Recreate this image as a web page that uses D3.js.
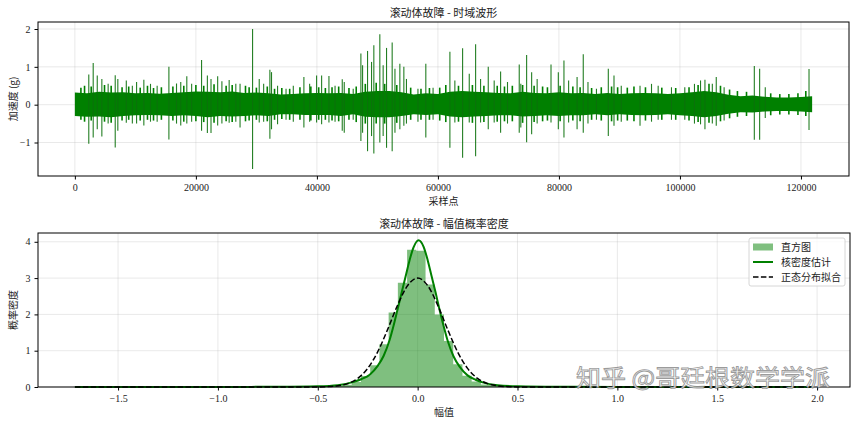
<!DOCTYPE html>
<html>
<head>
<meta charset="utf-8">
<script src="https://cdn.jsdelivr.net/npm/d3@7/dist/d3.min.js"></script>
<style>
  html, body { margin: 0; padding: 0; background: #fff; }
  svg { display: block; }
</style>
</head>
<body>
<svg id="chart" width="856" height="424"></svg>
<script>
// ---------------- DATA ----------------
const nSamples = 121846;

// dense core band of the waveform (envelope)
const coreX = [0,2000,4000,6000,8000,10000,12000,14000,16000,18000,20000,22000,24000,26000,28000,30000,
  32000,34000,36000,38000,40000,42000,44000,46000,48000,50000,52000,54000,56000,58000,60000,62000,64000,
  66000,68000,70000,72000,74000,76000,78000,80000,82000,84000,86000,88000,90000,92000,94000,96000,98000,
  100000,102000,104000,106000,108000,110000,112000,114000,116000,118000,120000,121846];
const coreTop = [0.32,0.30,0.34,0.32,0.33,0.30,0.31,0.29,0.31,0.33,0.35,0.34,0.33,0.35,0.31,0.32,
  0.30,0.27,0.28,0.30,0.31,0.30,0.31,0.28,0.34,0.36,0.36,0.33,0.27,0.30,0.28,0.34,0.36,
  0.34,0.33,0.31,0.30,0.34,0.31,0.30,0.33,0.30,0.31,0.28,0.31,0.28,0.30,0.31,0.30,0.28,
  0.30,0.33,0.36,0.33,0.26,0.22,0.24,0.21,0.19,0.19,0.20,0.22];
const coreBottom = [-0.30,-0.32,-0.31,-0.33,-0.30,-0.28,-0.27,-0.28,-0.30,-0.28,-0.30,-0.33,-0.30,-0.31,-0.30,-0.28,
  -0.30,-0.25,-0.25,-0.27,-0.27,-0.27,-0.30,-0.25,-0.32,-0.33,-0.33,-0.30,-0.25,-0.27,-0.25,-0.31,-0.33,
  -0.31,-0.30,-0.28,-0.28,-0.31,-0.30,-0.28,-0.30,-0.28,-0.28,-0.25,-0.28,-0.25,-0.27,-0.28,-0.27,-0.25,
  -0.28,-0.30,-0.33,-0.30,-0.24,-0.20,-0.21,-0.18,-0.17,-0.17,-0.18,-0.20];

// small ragged peaks at the edge of the band (sample index, max, min)
const minorX = [1000,1600,2700,4900,6000,7800,8900,10800,12000,13000,14300,16200,18000,20000,21300,23000,25000,26000,
  28200,28800,30000,31800,33000,34200,35500,37200,39000,40300,41400,42500,43600,45300,46500,48000,49800,51200,
  53200,55500,57200,58600,60300,61300,63400,65700,67600,69800,71000,72300,74000,75900,77300,78100,80200,82300,
  83500,85400,87000,88700,89700,91300,92400,94300,97000,99300,101500,103000,104800,106700,108200,109500,111000,
  115000,116500,118000,119500,120800];
const minorMax = [0.45,0.50,0.48,0.52,0.50,0.46,0.48,0.45,0.50,0.44,0.46,0.48,0.50,0.52,0.50,0.54,0.50,0.52,
  0.50,0.46,0.45,0.48,0.42,0.44,0.42,0.46,0.48,0.46,0.44,0.46,0.48,0.44,0.48,0.55,0.58,0.55,
  0.52,0.45,0.42,0.44,0.45,0.52,0.50,0.52,0.50,0.50,0.48,0.50,0.52,0.50,0.48,0.46,0.50,0.48,
  0.46,0.44,0.46,0.48,0.46,0.45,0.48,0.46,0.45,0.44,0.46,0.52,0.55,0.50,0.40,0.36,0.34,
  0.30,0.28,0.28,0.30,0.36];
const minorMin = [-0.40,-0.45,-0.42,-0.45,-0.48,-0.42,-0.40,-0.42,-0.40,-0.42,-0.40,-0.42,-0.45,-0.44,-0.46,-0.48,-0.44,-0.46,
  -0.44,-0.42,-0.40,-0.44,-0.40,-0.38,-0.40,-0.40,-0.42,-0.40,-0.40,-0.42,-0.44,-0.40,-0.46,-0.50,-0.50,-0.50,
  -0.48,-0.40,-0.40,-0.40,-0.42,-0.46,-0.45,-0.48,-0.46,-0.45,-0.44,-0.44,-0.48,-0.46,-0.44,-0.42,-0.44,-0.42,
  -0.44,-0.40,-0.42,-0.44,-0.42,-0.42,-0.44,-0.42,-0.40,-0.40,-0.42,-0.46,-0.48,-0.44,-0.36,-0.32,-0.30,
  -0.28,-0.26,-0.26,-0.27,-0.30];

// impulsive spikes (sample index, peak max, peak min)
const spikeX = [2300,3030,3700,4460,5500,6670,7100,8500,9500,10200,11400,12500,13600,15540,16800,17500,18500,19300,
  20940,21900,22500,23600,24300,25500,26600,27300,29370,
  30470,31200,32230,32500,33500,34900,36100,37850,38800,39950,40780,41990,43000,44190,44520,46000,
  47270,47550,48370,49030,49410,50400,50950,51510,52440,52900,53710,54370,54800,56700,58000,59200,
  61980,62800,64080,65180,66230,67050,68320,69300,70360,71500,73440,73700,74660,75490,76400,78690,
  79900,80830,81600,83000,84020,84800,86200,88160,89100,90300,
  93400,95300,96400,98600,100800,102400,103400,104130,105350,106000,107300,112290,113170,114100,121330];
const spikeMax = [0.80,1.10,0.77,0.68,0.55,0.78,0.68,0.64,0.50,0.60,0.66,0.55,0.50,1.00,0.56,0.60,0.75,0.55,
  1.18,0.77,0.68,0.75,0.62,0.65,0.55,0.55,2.00,
  0.68,0.55,0.92,0.86,0.50,0.42,0.50,0.73,0.55,0.77,0.77,0.76,0.50,0.67,0.60,0.42,
  1.35,1.04,1.42,1.13,1.57,1.86,1.04,1.50,1.64,0.95,1.08,1.00,0.68,0.42,1.08,0.45,
  1.40,0.64,1.49,0.82,1.60,0.68,1.00,0.64,0.88,0.60,1.06,0.55,1.31,0.86,0.68,1.06,
  0.86,1.17,0.64,0.73,1.33,0.60,0.42,0.95,0.77,0.50,
  0.50,0.55,0.50,0.46,0.46,0.55,0.64,0.66,0.55,0.73,0.46,1.02,0.95,0.46,0.94];
const spikeMin = [-1.03,-0.87,-0.65,-0.84,-0.50,-1.13,-0.69,-0.48,-0.50,-0.50,-0.55,-0.45,-0.45,-0.92,-0.50,-0.55,-0.50,-0.45,
  -0.69,-0.75,-0.75,-0.55,-0.50,-0.48,-0.45,-0.60,-1.70,
  -0.47,-0.45,-0.90,-0.65,-0.52,-0.40,-0.45,-0.60,-0.45,-0.47,-0.52,-0.47,-0.45,-0.69,-0.74,-0.40,
  -0.96,-0.74,-1.23,-0.83,-1.29,-1.00,-0.83,-1.14,-1.23,-0.74,-0.65,-0.56,-0.50,-0.45,-0.87,-0.40,
  -1.14,-0.47,-1.40,-0.47,-1.36,-0.47,-0.65,-0.47,-0.74,-0.50,-0.74,-0.60,-0.99,-0.78,-0.50,-0.47,
  -0.65,-0.87,-0.47,-0.65,-0.74,-0.50,-0.40,-0.83,-0.56,-0.45,
  -0.56,-0.45,-0.40,-0.40,-0.40,-0.50,-0.52,-0.65,-0.50,-0.56,-0.42,-0.93,-0.93,-0.35,-0.67];

const timeTicks = [0,20000,40000,60000,80000,100000,120000];
const ampTicks = [-1,0,1,2];

// histogram (density), 80 bins over the data range
const histMin = -1.716, histMax = 1.98;
const histDensity = [
  0.006,0,0,0,0,0,0.003,0,0,0,
  0.003,0,0.003,0.003,0,0.003,0.006,0.003,0.006,0.006,
  0.008,0.008,0.01,0.01,0.012,0.015,0.018,0.025,0.035,0.06,
  0.14,0.30,0.60,1.18,2.05,2.87,3.78,3.75,2.82,2.00,
  1.27,0.63,0.31,0.15,0.07,0.04,0.028,0.02,0.015,0.012,
  0.01,0.009,0.007,0.006,0.005,0.004,0.003,0.003,0.002,0.002,
  0.002,0,0.002,0,0.002,0,0,0.002,0,0,
  0,0.002,0,0,0,0,0,0,0,0.003];

// kernel density estimate
const kdeX = [-1.716,-1.5,-1.0,-0.7,-0.5,-0.4,-0.32,-0.28,-0.24,-0.20,-0.17,-0.14,-0.12,-0.10,-0.08,-0.06,-0.04,-0.02,
  0.004,0.03,0.05,0.07,0.09,0.11,0.13,0.15,0.18,0.21,0.25,0.29,0.33,0.40,0.50,0.70,1.0,1.5,1.98];
const kdeY = [0.001,0.001,0.002,0.006,0.02,0.05,0.14,0.22,0.34,0.58,0.86,1.30,1.70,2.15,2.60,3.05,3.50,3.85,
  4.04,3.86,3.50,3.05,2.60,2.12,1.68,1.28,0.84,0.56,0.32,0.20,0.12,0.05,0.02,0.006,0.002,0.001,0.001];

// fitted normal distribution
const normX = [-1.716,-1.0,-0.6,-0.5,-0.45,-0.4,-0.35,-0.3,-0.25,-0.2,-0.15,-0.1,-0.05,0,
  0.05,0.1,0.15,0.2,0.25,0.3,0.35,0.4,0.45,0.5,0.6,1.0,1.98];
const normY = [0,0,0.0001,0.0026,0.01,0.033,0.094,0.236,0.512,0.968,1.588,2.26,2.796,3.0,
  2.796,2.26,1.588,0.968,0.512,0.236,0.094,0.033,0.01,0.0026,0.0001,0,0];

const densTicks = [0,1,2,3,4];
const valTicks = [-1.5,-1.0,-0.5,0.0,0.5,1.0,1.5,2.0];

const legendLabels = ["直方图","核密度估计","正态分布拟合"];

// ---------------- DRAW ----------------
const fontCJK = "'Noto Sans CJK SC','Noto Sans CJK JP',sans-serif";
const fontNum = "'Liberation Serif','DejaVu Serif',serif";
const svg = d3.select("#chart");
svg.append("rect").attr("width",856).attr("height",424).attr("fill","#fff");

function pad(lo, hi){ const s = hi - lo; return [lo - 0.05*s, hi + 0.05*s]; }

function frame(g, L, R, T, B){
  g.append("rect").attr("x",L).attr("y",T).attr("width",R-L).attr("height",B-T)
    .attr("fill","none").attr("stroke","#000").attr("stroke-width",1);
}

// ===== Top panel =====
{
  const L = 38, R = 849, T = 22, B = 176;
  const x = d3.scaleLinear().domain(pad(0, nSamples)).range([L, R]);
  const ymax = d3.max(spikeMax), ymin = d3.min(spikeMin);
  const y = d3.scaleLinear().domain(pad(ymin, ymax)).range([B, T]);
  const g = svg.append("g");

  // grid
  g.selectAll(".gx").data(timeTicks).enter().append("line")
    .attr("x1",d=>x(d)).attr("x2",d=>x(d)).attr("y1",T).attr("y2",B)
    .attr("stroke","#b0b0b0").attr("stroke-opacity",0.35).attr("stroke-width",0.8);
  g.selectAll(".gy").data(ampTicks).enter().append("line")
    .attr("x1",L).attr("x2",R).attr("y1",d=>y(d)).attr("y2",d=>y(d))
    .attr("stroke","#b0b0b0").attr("stroke-opacity",0.35).attr("stroke-width",0.8);

  // core band
  const core = coreX.map((v,i)=>({x:v,t:coreTop[i],b:coreBottom[i]}));
  g.append("path").datum(core)
    .attr("d", d3.area().x(d=>x(d.x)).y0(d=>y(d.b)).y1(d=>y(d.t)).curve(d3.curveLinear))
    .attr("fill","#008000");
  // ragged edge
  g.selectAll(".mn").data(minorX).enter().append("line")
    .attr("x1",d=>x(d)).attr("x2",d=>x(d))
    .attr("y1",(d,i)=>y(minorMin[i])).attr("y2",(d,i)=>y(minorMax[i]))
    .attr("stroke","#008000").attr("stroke-width",1.6);
  // spikes
  g.selectAll(".sp").data(spikeX).enter().append("line")
    .attr("x1",d=>x(d)).attr("x2",d=>x(d))
    .attr("y1",(d,i)=>y(spikeMin[i])).attr("y2",(d,i)=>y(spikeMax[i]))
    .attr("stroke","#0b700b").attr("stroke-width",1.1).attr("stroke-opacity",0.9);

  frame(g, L, R, T, B);

  // axes
  const ax = g.append("g").attr("transform",`translate(0,${B})`)
    .call(d3.axisBottom(x).tickValues(timeTicks).tickFormat(d3.format("d")).tickSize(3.5).tickPadding(4));
  const ay = g.append("g").attr("transform",`translate(${L},0)`)
    .call(d3.axisLeft(y).tickValues(ampTicks).tickFormat(d=>d<0?"\u2212"+Math.abs(d):String(d)).tickSize(3.5).tickPadding(4));
  [ax, ay].forEach(a=>{
    a.select(".domain").remove();
    a.selectAll("text").attr("font-family",fontNum).attr("font-size",10).attr("fill","#222");
    a.selectAll("line").attr("stroke","#000");
  });

  g.append("text").attr("x",(L+R)/2).attr("y",17).attr("text-anchor","middle")
    .attr("font-family",fontCJK).attr("font-size",11).attr("fill","#222").text("滚动体故障 - 时域波形");
  g.append("text").attr("x",(L+R)/2).attr("y",205).attr("text-anchor","middle")
    .attr("font-family",fontCJK).attr("font-size",10).attr("fill","#222").text("采样点");
  g.append("text").attr("transform",`translate(17,${(T+B)/2}) rotate(-90)`).attr("text-anchor","middle")
    .attr("font-family",fontCJK).attr("font-size",10).attr("fill","#222").text("加速度 (g)");
}

// ===== Bottom panel =====
{
  const L = 38, R = 850, T = 233, B = 387;
  const x = d3.scaleLinear().domain(pad(histMin, histMax)).range([L, R]);
  const y = d3.scaleLinear().domain([0, d3.max(kdeY)*1.05]).range([B, T]);
  const g = svg.append("g");

  g.selectAll(".gx").data(valTicks).enter().append("line")
    .attr("x1",d=>x(d)).attr("x2",d=>x(d)).attr("y1",T).attr("y2",B)
    .attr("stroke","#b0b0b0").attr("stroke-opacity",0.35).attr("stroke-width",0.8);
  g.selectAll(".gy").data(densTicks).enter().append("line")
    .attr("x1",L).attr("x2",R).attr("y1",d=>y(d)).attr("y2",d=>y(d))
    .attr("stroke","#b0b0b0").attr("stroke-opacity",0.35).attr("stroke-width",0.8);

  // histogram as one stepped area (no seams between bars)
  const bw = (histMax - histMin) / histDensity.length;
  const steps = histDensity.map((d,i)=>[histMin + i*bw, d]);
  steps.push([histMax, histDensity[histDensity.length-1]]);
  g.append("path").datum(steps)
    .attr("d", d3.area().x(d=>x(d[0])).y0(y(0)).y1(d=>y(d[1])).curve(d3.curveStepAfter))
    .attr("fill","#008000").attr("fill-opacity",0.5);

  const kde = kdeX.map((v,i)=>[v,kdeY[i]]);
  g.append("path").datum(kde)
    .attr("d", d3.line().x(d=>x(d[0])).y(d=>y(d[1])).curve(d3.curveMonotoneX))
    .attr("fill","none").attr("stroke","#008000").attr("stroke-width",2);
  const nrm = normX.map((v,i)=>[v,normY[i]]);
  g.append("path").datum(nrm)
    .attr("d", d3.line().x(d=>x(d[0])).y(d=>y(d[1])).curve(d3.curveMonotoneX))
    .attr("fill","none").attr("stroke","#000").attr("stroke-width",1.5).attr("stroke-dasharray","5.5,2.4");

  frame(g, L, R, T, B);

  const ax = g.append("g").attr("transform",`translate(0,${B})`)
    .call(d3.axisBottom(x).tickValues(valTicks).tickFormat(d=>(d<0?"\u2212":"")+Math.abs(d).toFixed(1)).tickSize(3.5).tickPadding(4));
  const ay = g.append("g").attr("transform",`translate(${L},0)`)
    .call(d3.axisLeft(y).tickValues(densTicks).tickFormat(d3.format("d")).tickSize(3.5).tickPadding(4));
  [ax, ay].forEach(a=>{
    a.select(".domain").remove();
    a.selectAll("text").attr("font-family",fontNum).attr("font-size",10).attr("fill","#222");
    a.selectAll("line").attr("stroke","#000");
  });

  g.append("text").attr("x",(L+R)/2).attr("y",228).attr("text-anchor","middle")
    .attr("font-family",fontCJK).attr("font-size",11).attr("fill","#222").text("滚动体故障 - 幅值概率密度");
  g.append("text").attr("x",(L+R)/2).attr("y",416).attr("text-anchor","middle")
    .attr("font-family",fontCJK).attr("font-size",10).attr("fill","#222").text("幅值");
  g.append("text").attr("transform",`translate(17,${(T+B)/2}) rotate(-90)`).attr("text-anchor","middle")
    .attr("font-family",fontCJK).attr("font-size",10).attr("fill","#222").text("概率密度");

  // legend
  const lg = g.append("g");
  lg.append("rect").attr("x",749).attr("y",238).attr("width",96).attr("height",48).attr("rx",2)
    .attr("fill","#fff").attr("fill-opacity",0.8).attr("stroke","#ccc").attr("stroke-width",0.8);
  const rowY = [247, 262, 277];
  lg.append("rect").attr("x",753).attr("y",rowY[0]-3.5).attr("width",20).attr("height",7)
    .attr("fill","#008000").attr("fill-opacity",0.5);
  lg.append("line").attr("x1",753).attr("x2",773).attr("y1",rowY[1]).attr("y2",rowY[1])
    .attr("stroke","#008000").attr("stroke-width",2);
  lg.append("line").attr("x1",753).attr("x2",773).attr("y1",rowY[2]).attr("y2",rowY[2])
    .attr("stroke","#000").attr("stroke-width",1.5).attr("stroke-dasharray","5.5,2.4");
  lg.selectAll(".lt").data(legendLabels).enter().append("text")
    .attr("x",781).attr("y",(d,i)=>rowY[i]+3.5)
    .attr("font-family",fontCJK).attr("font-size",10).attr("fill","#222").text(d=>d);
}

// watermark (kept just above the tick labels)
svg.append("text").attr("x",576).attr("y",386).attr("textLength",254).attr("lengthAdjust","spacingAndGlyphs")
  .attr("font-family",fontCJK).attr("font-size",23)
  .attr("fill","#ffffff").attr("fill-opacity",0.85)
  .attr("stroke","#6e6e6e").attr("stroke-opacity",0.7).attr("stroke-width",0.9)
  .text("知乎 @哥廷根数学学派");
</script>
</body>
</html>
